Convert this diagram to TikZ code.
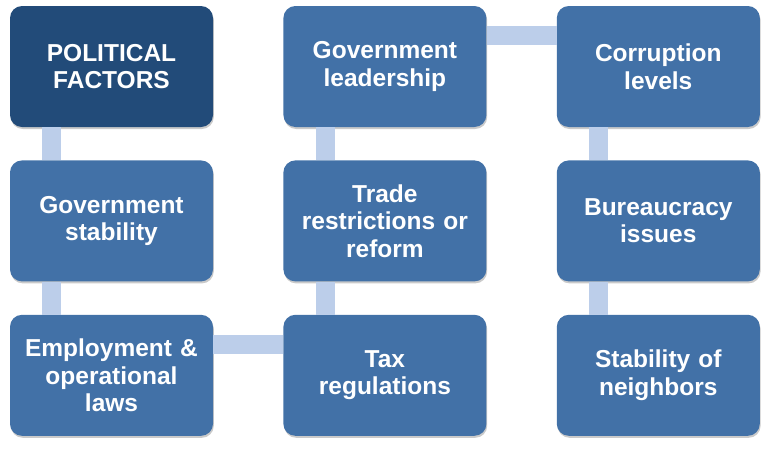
\documentclass[tikz,border=0pt]{standalone}
\usepackage{fontspec}
\setsansfont{Liberation Sans}
\usetikzlibrary{positioning,shadows}
\definecolor{factordark}{HTML}{224B79}
\definecolor{factorblue}{HTML}{4271A7}
\definecolor{linkblue}{HTML}{BCCEEA}
\begin{document}
\begin{tikzpicture}[
        x=1pt, y=1pt,
        factor/.style={
            fill=factorblue,
            rounded corners=12pt,
            align=center,
            text=white,
            text width=190pt,
            minimum width=203pt,
            minimum height=121pt,
            inner sep=0pt,
            font=\sffamily\bfseries\fontsize{24.5}{27.5}\selectfont,
            drop shadow={shadow xshift=0.8pt, shadow yshift=-2pt, opacity=0.35, fill=black!60}
        },
        headfactor/.style={factor, fill=factordark},
        link/.style={draw=linkblue, line width=19pt},
        node distance=33pt and 70pt
    ]
        \useasboundingbox (0,0) rectangle (769,-448);

        \node[headfactor] (political) at (111.5,-66.5) {POLITICAL\\FACTORS};
        \node[factor, below=of political] (govstab) {Government\\stability};
        \node[factor, below=of govstab] (employ) {Employment \&\\operational\\laws};
        \node[factor, right=of employ] (tax) {Tax\\regulations};
        \node[factor, above=of tax] (trade) {Trade\\restrictions or\\reform};
        \node[factor, above=of trade] (govlead) {Government\\leadership};
        \node[factor, right=of govlead] (corrupt) {Corruption\\levels};
        \node[factor, below=of corrupt] (bureau) {Bureaucracy\\issues};
        \node[factor, below=of bureau] (neighbors) {Stability of\\neighbors};

        \draw[link] ([xshift=42pt]political.south west) -- ([xshift=42pt]govstab.north west);
        \draw[link] ([xshift=42pt]govstab.south west) -- ([xshift=42pt]employ.north west);
        \draw[link] ([yshift=-30pt]employ.north east) -- ([yshift=-30pt]tax.north west);
        \draw[link] ([xshift=42pt]tax.north west) -- ([xshift=42pt]trade.south west);
        \draw[link] ([xshift=42pt]trade.north west) -- ([xshift=42pt]govlead.south west);
        \draw[link] ([yshift=-30pt]govlead.north east) -- ([yshift=-30pt]corrupt.north west);
        \draw[link] ([xshift=42pt]corrupt.south west) -- ([xshift=42pt]bureau.north west);
        \draw[link] ([xshift=42pt]bureau.south west) -- ([xshift=42pt]neighbors.north west);
    \end{tikzpicture}
\end{document}
